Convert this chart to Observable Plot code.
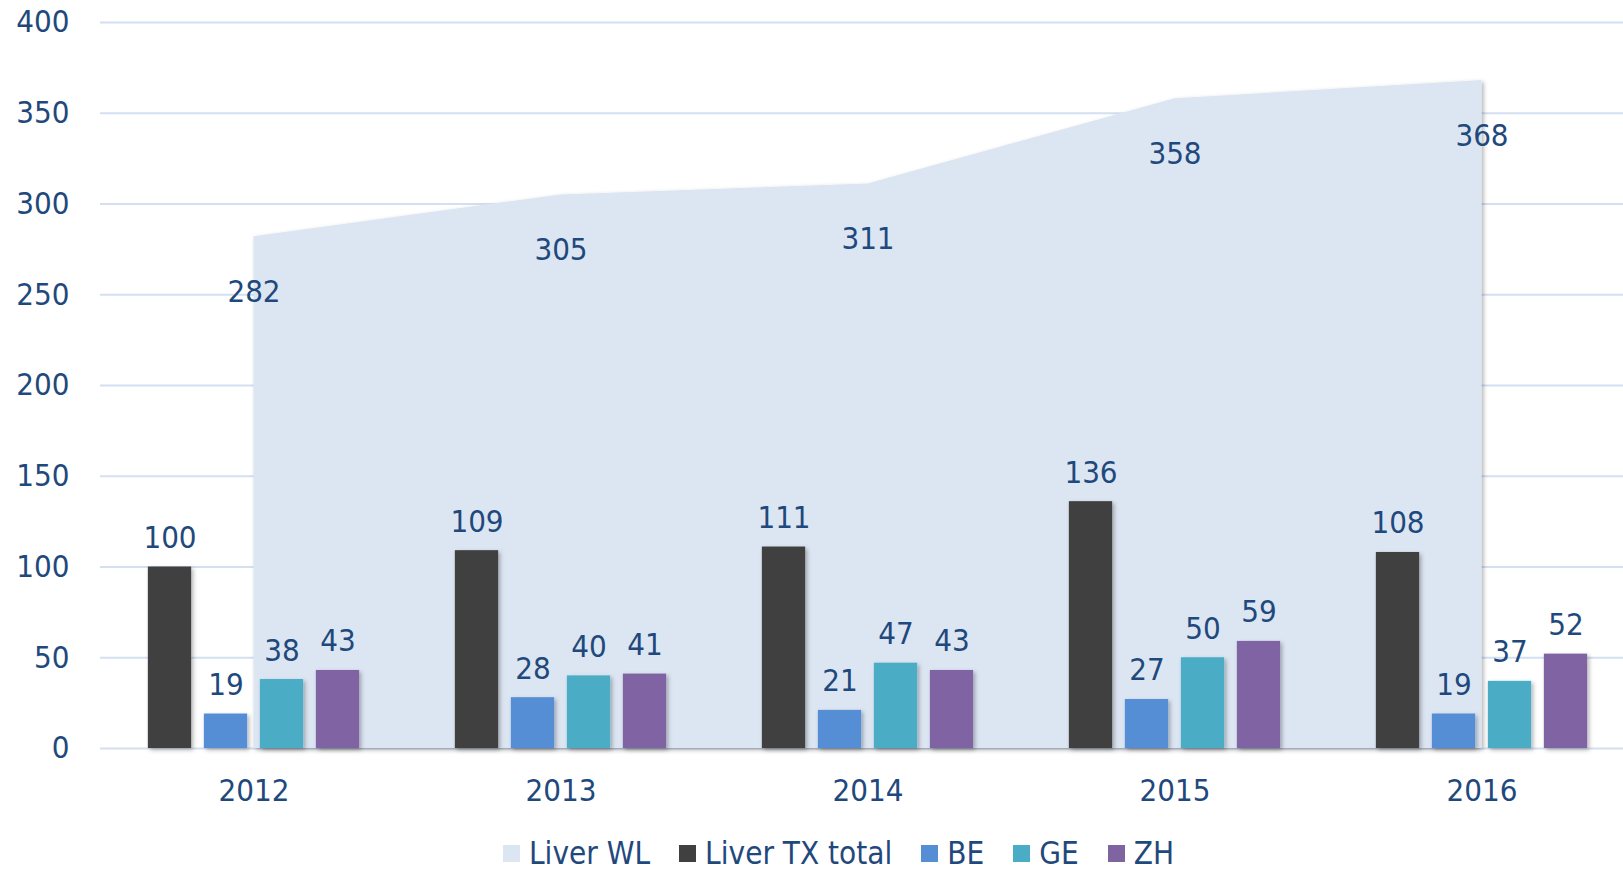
<!DOCTYPE html>
<html><head><meta charset="utf-8">
<script src="https://cdn.jsdelivr.net/npm/d3@7"></script>
<script src="https://cdn.jsdelivr.net/npm/@observablehq/plot@0.6"></script>
<style>
body{margin:0;background:#fff;font-family:"DejaVu Sans Condensed","DejaVu Sans",sans-serif;font-stretch:condensed;}
#chart{position:relative;width:1623px;height:870px;overflow:hidden;}
#legend{position:absolute;left:503px;top:838px;display:flex;align-items:center;font-size:31.2px;color:#1F497D;line-height:30px;white-space:nowrap;}
.item{display:flex;align-items:center;margin-right:29px;}
.sw{width:17px;height:17px;margin-right:9px;}
</style></head><body><div id="chart"></div>
<script>
// ---- data ----
const years = ["2012", "2013", "2014", "2015", "2016"];
const liverWL = [282, 305, 311, 358, 368];
const liverTX = [100, 109, 111, 136, 108];
const be = [19, 28, 21, 27, 19];
const ge = [38, 40, 47, 50, 37];
const zh = [43, 41, 43, 59, 52];
const seriesNames = ["Liver WL", "Liver TX total", "BE", "GE", "ZH"];
const yTicks = [0, 50, 100, 150, 200, 250, 300, 350, 400];

// ---- styles ----
const colors = ["#DCE6F2", "#404040", "#558ED5", "#4BACC6", "#8064A2"];
const textColor = "#1F497D";
const fontFamily = '"DejaVu Sans Condensed","DejaVu Sans",sans-serif';
const fontSize = 31;
const barOffsets = [-84, -28, 28, 84];
const barWidth = 43.5;
const step = 307.2;
const inset = (step - barWidth) / 2;

const wlData = years.map((year, i) => ({year, value: liverWL[i]}));
const barSeries = [liverTX, be, ge, zh];

const barMarks = [];
const labelMarks = [];
barSeries.forEach((vals, s) => {
  const data = years.map((year, i) => ({year, value: vals[i]}));
  barMarks.push(Plot.barY(data, {
    x: "year", y: "value", fill: colors[s + 1],
    insetLeft: inset, insetRight: inset, dx: barOffsets[s]
  }));
  labelMarks.push(Plot.text(data, {
    x: "year", y: "value", text: d => String(d.value),
    dx: barOffsets[s], dy: -19, lineAnchor: "bottom",
    fill: textColor, fontSize
  }));
});

const plot = Plot.plot({
  width: 1623,
  height: 815,
  marginLeft: 100,
  marginRight: 0,
  marginTop: 22,
  marginBottom: 67,
  style: {fontFamily, fontSize: fontSize + "px", color: textColor, background: "transparent", fontStretch: "condensed"},
  x: {type: "band", domain: years, range: [99.6, 99.6 + step * 5], padding: 0, label: null, tickSize: 0, tickPadding: 30},
  y: {domain: [0, 400], ticks: yTicks, label: null, tickSize: 0, tickPadding: 31},
  marks: [
    Plot.ruleY(yTicks, {stroke: "#D3E0F1", strokeWidth: 2}),
    Plot.areaY(wlData, {x: "year", y: "value", fill: colors[0]}),
    ...barMarks,
    ...labelMarks,
    Plot.text(wlData, {x: "year", y: "value", text: d => String(d.value), dy: 55, fill: textColor, fontSize})
  ]
});

// soft shadows like the original
const svg = d3.select(plot);
const defs = svg.insert("defs", ":first-child");
const f = defs.append("filter").attr("id", "sh").attr("x", "-20%").attr("y", "-20%").attr("width", "140%").attr("height", "140%");
f.append("feDropShadow").attr("dx", 2).attr("dy", 2).attr("stdDeviation", 2).attr("flood-color", "#000").attr("flood-opacity", 0.3);
svg.selectAll('g[aria-label="bar"]').attr("filter", "url(#sh)");
svg.selectAll('g[aria-label="area"]').attr("filter", "url(#sh)");

const chart = document.getElementById("chart");
chart.appendChild(plot);

// legend
const legend = document.createElement("div");
legend.id = "legend";
seriesNames.forEach((name, i) => {
  const item = document.createElement("div");
  item.className = "item";
  const sw = document.createElement("span");
  sw.className = "sw";
  sw.style.background = colors[i];
  const label = document.createElement("span");
  label.textContent = name;
  item.appendChild(sw);
  item.appendChild(label);
  legend.appendChild(item);
});
chart.appendChild(legend);
</script>
</body></html>
